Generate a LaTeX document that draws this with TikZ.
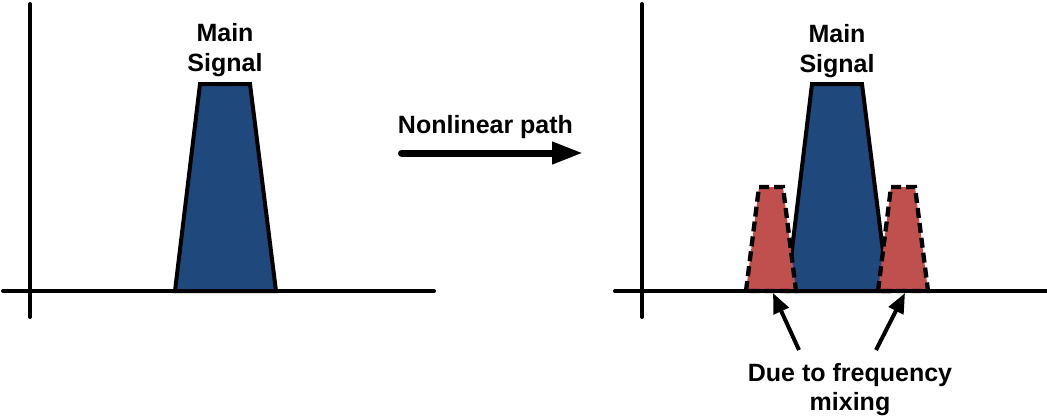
\documentclass[tikz,border=0pt]{standalone}
\usepackage{fontspec}
\setmainfont{Liberation Sans}
\usetikzlibrary{arrows.meta}
\definecolor{sigblue}{HTML}{1F497D}
\definecolor{sigred}{HTML}{C0504D}
\begin{document}
\begin{tikzpicture}[x=1pt,y=-1pt,
  axisline/.style={line width=4pt, line cap=round},
  mainsig/.style={draw, fill=sigblue, line width=4pt, line join=miter},
  mixsig/.style={draw, fill=sigred, line width=4.3pt, line join=miter, dash pattern=on 10pt off 5pt},
  lbl/.style={font={\bfseries\fontsize{25}{29.5}\selectfont}, align=center, inner sep=0pt},
  bigarrow/.style={line width=7pt, line cap=round, -{Triangle[length=31pt,width=21pt]}},
  ptr/.style={line width=4pt, -{Triangle[length=20pt,width=16pt]}}]
\useasboundingbox (0,0) rectangle (1047,416);
% left panel
\path[mainsig] (175,291) -- (200,84) -- (250,84) -- (276,291) -- cycle;
\draw[axisline] (30,4) -- (30,317);
\draw[axisline] (3,291) -- (434,291);
\node[lbl, anchor=north] (ms1) at (225,23.5) {Main\\Signal};
% transition arrow
\node[lbl, anchor=base] (nl) at (485.5,133) {Nonlinear path};
\coordinate (a1) at (401.5,153);
\coordinate (a2) at (583,153);
\draw[bigarrow] (a1) -- (a2);
% right panel
\path[mainsig] (787,291) -- (812,84) -- (862,84) -- (888,291) -- cycle;
\path[mixsig] (746,291) -- (759,187) -- (783,187) -- (796,291) -- cycle;
\path[mixsig] (878,291) -- (891,187) -- (915,187) -- (928,291) -- cycle;
\draw[axisline] (642,4) -- (642,317);
\draw[axisline] (615,291) -- (1050,291);
\node[lbl, anchor=north] (ms2) at (837,24.5) {Main\\Signal};
\node[lbl, anchor=north] (mix) at (850,363) {Due to frequency\\mixing};
\coordinate (p1s) at (799,350);
\coordinate (p1e) at (773,293);
\coordinate (p2s) at (876,350);
\coordinate (p2e) at (905,293);
\draw[ptr] (p1s) -- (p1e);
\draw[ptr] (p2s) -- (p2e);
\end{tikzpicture}
\end{document}
